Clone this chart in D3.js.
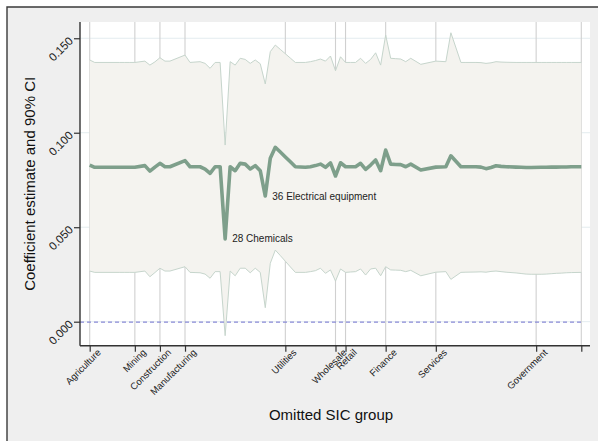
<!DOCTYPE html>
<html>
<head>
<meta charset="utf-8">
<script src="https://cdn.jsdelivr.net/npm/d3@7"></script>
<style>
  html, body { margin: 0; padding: 0; background: #ffffff; }
  svg { display: block; font-family: "Liberation Sans", Arial, Helvetica, sans-serif; }
</style>
</head>
<body>
<svg id="chart" width="598" height="441"></svg>
<script>
// Two-digit SIC code that is left out of the sample
const sicCodes = [1, 2, 7, 8, 9, 10, 12, 13, 14, 15, 16, 17, 20, 21, 22, 23, 24, 25, 26, 27,
  28, 29, 30, 31, 32, 33, 34, 35, 36, 37, 38, 39, 40, 41, 42, 44, 45, 46, 47, 48,
  49, 50, 51, 52, 53, 54, 55, 56, 57, 58, 59, 60, 61, 62, 63, 64, 65, 67, 70, 72,
  73, 75, 76, 78, 79, 80, 81, 82, 83, 84, 86, 87, 88, 89, 91, 92, 93, 94, 95, 96, 97, 99];

// Point estimate with that group omitted
const coefficient = [0.0829, 0.0817, 0.0817, 0.0817, 0.0817, 0.0817, 0.0826, 0.0797, 0.0818, 0.0838,
  0.0820, 0.0820, 0.0852, 0.0820, 0.0820, 0.0820, 0.0808, 0.0785, 0.0820, 0.0820,
  0.0438, 0.0820, 0.0799, 0.0838, 0.0834, 0.0808, 0.0826, 0.0799, 0.0665, 0.0865,
  0.0923, 0.0898, 0.0872, 0.0846, 0.0820, 0.0817, 0.0820, 0.0826, 0.0834, 0.0817,
  0.0840, 0.0771, 0.0841, 0.0820, 0.0820, 0.0820, 0.0838, 0.0806, 0.0829, 0.0856,
  0.0799, 0.0908, 0.0834, 0.0832, 0.0831, 0.0820, 0.0834, 0.0803, 0.0818, 0.0820,
  0.0878, 0.0820, 0.0820, 0.0820, 0.0818, 0.0810, 0.0816, 0.0825, 0.0822, 0.0820,
  0.0818, 0.0817, 0.0816, 0.0816, 0.0817, 0.0817, 0.0818, 0.0818, 0.0819, 0.0819, 0.0820, 0.0820];

// Upper bound of the 90% confidence interval
const ciUpper = [0.1385, 0.1372, 0.1372, 0.1372, 0.1372, 0.1372, 0.1379, 0.1358, 0.1375, 0.1397,
  0.1379, 0.1379, 0.1411, 0.1372, 0.1374, 0.1376, 0.1367, 0.1341, 0.1372, 0.1372,
  0.0935, 0.1376, 0.1358, 0.1394, 0.1388, 0.1367, 0.1385, 0.1365, 0.1258, 0.1429,
  0.1464, 0.1441, 0.1418, 0.1395, 0.1372, 0.1372, 0.1376, 0.1382, 0.1390, 0.1379,
  0.1406, 0.1328, 0.1402, 0.1372, 0.1372, 0.1372, 0.1394, 0.1367, 0.1388, 0.1423,
  0.1358, 0.1517, 0.1394, 0.1392, 0.1390, 0.1376, 0.1394, 0.1362, 0.1379, 0.1376,
  0.1529, 0.1372, 0.1372, 0.1372, 0.1371, 0.1367, 0.1370, 0.1376, 0.1374, 0.1373,
  0.1372, 0.1372, 0.1372, 0.1372, 0.1372, 0.1372, 0.1372, 0.1372, 0.1372, 0.1372, 0.1372, 0.1372];

// Lower bound of the 90% confidence interval
const ciLower = [0.0268, 0.0261, 0.0261, 0.0261, 0.0261, 0.0261, 0.0268, 0.0238, 0.0260, 0.0283,
  0.0268, 0.0268, 0.0291, 0.0261, 0.0260, 0.0259, 0.0252, 0.0230, 0.0265, 0.0265,
  -0.0074, 0.0268, 0.0243, 0.0283, 0.0283, 0.0259, 0.0283, 0.0261, 0.0074, 0.0309,
  0.0379, 0.0350, 0.0320, 0.0290, 0.0261, 0.0261, 0.0265, 0.0270, 0.0283, 0.0256,
  0.0274, 0.0215, 0.0279, 0.0261, 0.0263, 0.0265, 0.0279, 0.0247, 0.0279, 0.0283,
  0.0243, 0.0291, 0.0274, 0.0273, 0.0272, 0.0265, 0.0272, 0.0243, 0.0262, 0.0265,
  0.0224, 0.0261, 0.0262, 0.0263, 0.0264, 0.0262, 0.0266, 0.0268, 0.0265, 0.0262,
  0.0258, 0.0255, 0.0252, 0.0251, 0.0251, 0.0252, 0.0254, 0.0256, 0.0257, 0.0259, 0.0260, 0.0261];

// Division boundaries on the x axis
const divisionTicks = [1, 10, 15, 20, 40, 50, 52, 60, 70, 90, 99];
const divisionLabels = ["Agriculture", "Mining", "Construction", "Manufacturing", "Utilities",
  "Wholesale", "Retail", "Finance", "Services", "Government", ""];

const yTicks = [0, 0.05, 0.10, 0.15];
const yTickLabels = ["0.000", "0.050", "0.100", "0.150"];

// Labelled outliers
const noteCodes = [28, 36];
const noteTexts = ["28 Chemicals", "36 Electrical equipment"];

const rows = sicCodes.map((c, i) => ({ code: c, b: coefficient[i], hi: ciUpper[i], lo: ciLower[i] }));

const svg = d3.select("#chart");
const W = 598, H = 441;
const plot = { left: 80, right: 590, top: 22, bottom: 345.7 };

const x = d3.scaleLinear().domain([1, 99]).range([89.7, 581.3]);
const y = d3.scaleLinear().domain([-0.0127, 0.1586]).range([plot.bottom, plot.top]);

// Graph region background with a frame on the top and left
svg.append("rect").attr("x", 7).attr("y", 7).attr("width", W - 7).attr("height", H - 7).attr("fill", "#efefef");
svg.append("path").attr("d", `M7,${H} L7,7 L${W},7`).attr("fill", "none").attr("stroke", "#3a3a3a").attr("stroke-width", 1.4);

// Plot region
svg.append("rect").attr("x", plot.left).attr("y", plot.top)
  .attr("width", plot.right - plot.left).attr("height", plot.bottom - plot.top).attr("fill", "#ffffff");

// Gridlines
svg.append("g").selectAll("line").data(yTicks).join("line")
  .attr("x1", plot.left).attr("x2", plot.right)
  .attr("y1", d => y(d)).attr("y2", d => y(d))
  .attr("stroke", "#e3ecef").attr("stroke-width", 1);

svg.append("g").selectAll("line").data(divisionTicks).join("line")
  .attr("x1", d => x(d)).attr("x2", d => x(d))
  .attr("y1", plot.top).attr("y2", plot.bottom)
  .attr("stroke", "#d0d0d0").attr("stroke-width", 1.1);

// Confidence band
svg.append("path").datum(rows)
  .attr("d", d3.area().x(d => x(d.code)).y0(d => y(d.lo)).y1(d => y(d.hi)))
  .attr("fill", "#f4f3ef");

svg.append("path").datum(rows).attr("d", d3.line().x(d => x(d.code)).y(d => y(d.hi)))
  .attr("fill", "none").attr("stroke", "#c6d5cc").attr("stroke-width", 1);
svg.append("path").datum(rows).attr("d", d3.line().x(d => x(d.code)).y(d => y(d.lo)))
  .attr("fill", "none").attr("stroke", "#c6d5cc").attr("stroke-width", 1);

// Zero reference
svg.append("line")
  .attr("x1", plot.left).attr("x2", x(99))
  .attr("y1", y(0) + 0.5).attr("y2", y(0) + 0.5)
  .attr("stroke", "#8a8ad6").attr("stroke-width", 1.3).attr("stroke-dasharray", "4,3");

// Coefficient estimates
svg.append("path").datum(rows)
  .attr("d", d3.line().x(d => x(d.code)).y(d => y(d.b)))
  .attr("fill", "none").attr("stroke", "#7e9f8b").attr("stroke-width", 3.6)
  .attr("stroke-linejoin", "round");

// Outlier notes
svg.append("g").selectAll("text").data(noteCodes).join("text")
  .attr("x", d => x(d) + 7)
  .attr("y", d => y(coefficient[sicCodes.indexOf(d)]))
  .attr("dy", "0.35em")
  .attr("font-size", 10).attr("fill", "#222")
  .text((d, i) => noteTexts[i]);

// Y axis
const yAxis = svg.append("g").attr("transform", `translate(${plot.left},0)`)
  .call(d3.axisLeft(y).tickValues(yTicks).tickSize(6).tickFormat((d, i) => yTickLabels[i]));
yAxis.select(".domain").attr("stroke", "#333").attr("stroke-width", 1.4)
  .attr("d", `M0,${plot.top}V${plot.bottom}`);
yAxis.selectAll(".tick line").attr("stroke", "#333").attr("stroke-width", 1.2);
yAxis.selectAll(".tick text")
  .attr("x", null)
  .attr("text-anchor", "end")
  .attr("transform", "translate(-9,0) rotate(-45)")
  .attr("dy", "0.35em")
  .attr("font-size", 11.5).attr("fill", "#222")
  .attr("font-family", "Liberation Sans, Arial, sans-serif");

// X axis
const xAxis = svg.append("g").attr("transform", `translate(0,${plot.bottom})`)
  .call(d3.axisBottom(x).tickValues(divisionTicks).tickSize(6).tickFormat((d, i) => divisionLabels[i]));
xAxis.select(".domain").attr("stroke", "#333").attr("stroke-width", 1.4)
  .attr("d", `M${plot.left},0H${plot.right}`);
xAxis.selectAll(".tick line").attr("stroke", "#333").attr("stroke-width", 1.2);
xAxis.selectAll(".tick text")
  .attr("y", null).attr("dy", "0.35em")
  .attr("text-anchor", "end")
  .attr("transform", "translate(9,5) rotate(-45)")
  .attr("font-size", 9.5).attr("fill", "#222")
  .attr("font-family", "Liberation Sans, Arial, sans-serif");

// Axis titles
svg.append("text")
  .attr("transform", `translate(35,${(plot.top + plot.bottom) / 2}) rotate(-90)`)
  .attr("text-anchor", "middle")
  .attr("font-size", 15).attr("fill", "#111")
  .text("Coefficient estimate and 90% CI");

svg.append("text")
  .attr("x", (plot.left + plot.right) / 2 - 4).attr("y", 420)
  .attr("text-anchor", "middle")
  .attr("font-size", 15).attr("fill", "#111")
  .text("Omitted SIC group");
</script>
</body>
</html>
